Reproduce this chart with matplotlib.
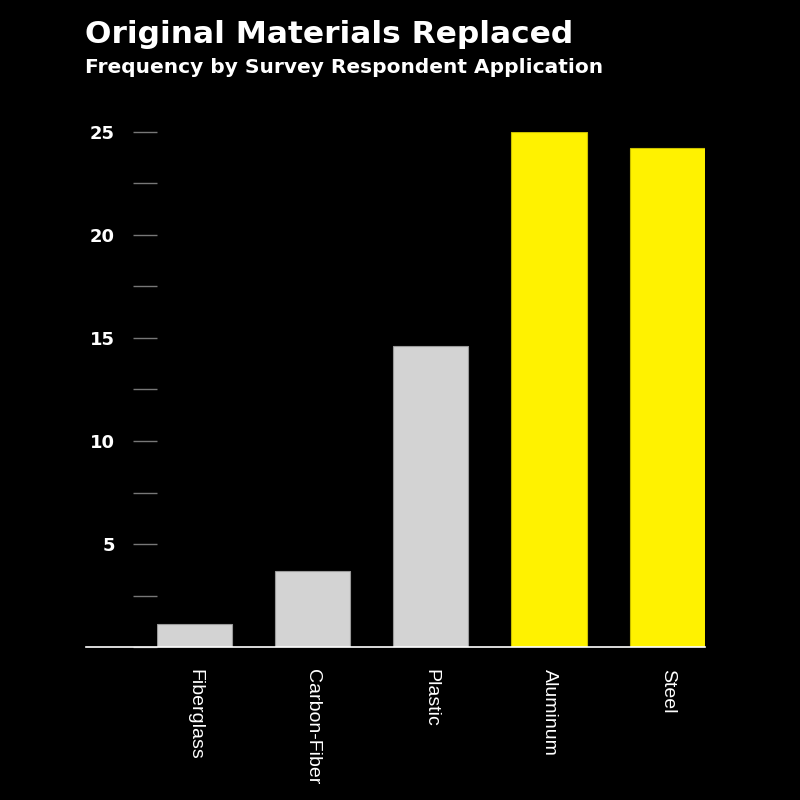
import matplotlib
matplotlib.use("Agg")
import matplotlib.pyplot as plt
from matplotlib.ticker import MultipleLocator

materials = ["Fiberglass", "Carbon-Fiber", "Plastic", "Aluminum", "Steel"]
frequency = [1.1, 3.7, 14.6, 25.0, 24.2]
highlight = [False, False, False, True, True]

plt.rcParams["font.family"] = ["Liberation Sans", "DejaVu Sans"]

fig = plt.figure(figsize=(8, 8), dpi=100, facecolor="black")
ax = fig.add_axes([0.19625, 0.19125, 0.685, 0.64375], facecolor="black")

colors = ["#fff200" if h else "#d3d3d3" for h in highlight]
edges = ["#c9bf00" if h else "#999999" for h in highlight]
ax.bar(range(len(materials)), frequency, width=0.636, color=colors,
       edgecolor=edges, linewidth=0.8, zorder=2)

ax.set_xlim(-0.318, 4.32)
ax.set_ylim(0, 25)

for s in ["top", "right", "left", "bottom"]:
    ax.spines[s].set_visible(False)
# baseline runs a bit past the left edge of the plot
ax.axhline(0, xmin=-0.13, xmax=1, color="white", linewidth=1.2,
           clip_on=False, zorder=3)

ax.yaxis.set_major_locator(MultipleLocator(5))
ax.yaxis.set_minor_locator(MultipleLocator(2.5))
ax.set_yticks([5, 10, 15, 20, 25])
ax.tick_params(axis="y", which="both", direction="out", length=17.5,
               width=1, color="#777777", labelcolor="white", pad=13)
ax.tick_params(axis="y", which="minor", labelleft=False)
for lbl in ax.get_yticklabels():
    lbl.set_fontfamily("DejaVu Sans")
    lbl.set_fontweight("bold")
    lbl.set_fontsize(13)

ax.set_xticks(range(len(materials)))
ax.set_xticklabels(materials, rotation=-90, color="white", fontsize=14)
ax.tick_params(axis="x", length=0, pad=16)

fig.text(0.106, 0.946, "Original Materials Replaced", color="white",
         fontsize=22.5, fontfamily="DejaVu Sans", fontweight="bold",
         ha="left", va="baseline")
fig.text(0.106, 0.909, "Frequency by Survey Respondent Application",
         color="white", fontsize=14.5, fontfamily="DejaVu Sans",
         fontweight="bold", ha="left", va="baseline")

fig.savefig("out.png", dpi=100, facecolor="black")
